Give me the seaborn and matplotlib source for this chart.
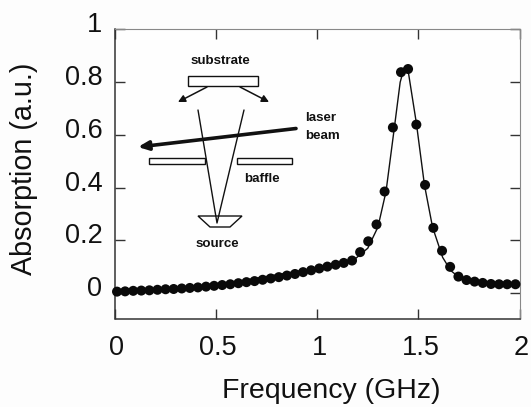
import matplotlib
matplotlib.use("Agg")
import matplotlib.pyplot as plt
from matplotlib.patches import Rectangle, Polygon
from matplotlib.transforms import ScaledTranslation
import pandas as pd
import seaborn as sns

frequency = [0.010, 0.050, 0.090, 0.130, 0.170, 0.210, 0.250, 0.290, 0.330, 0.370,
             0.410, 0.450, 0.490, 0.530, 0.570, 0.610, 0.650, 0.690, 0.730, 0.770,
             0.810, 0.850, 0.890, 0.930, 0.970, 1.010, 1.050, 1.091, 1.131, 1.172,
             1.212, 1.252, 1.293, 1.333, 1.374, 1.414, 1.449, 1.490, 1.533, 1.574,
             1.617, 1.657, 1.698, 1.738, 1.778, 1.818, 1.859, 1.899, 1.939, 1.980]
absorption = [0.005, 0.006, 0.008, 0.009, 0.010, 0.012, 0.014, 0.015, 0.017, 0.019,
              0.021, 0.024, 0.027, 0.030, 0.033, 0.037, 0.041, 0.045, 0.050, 0.055,
              0.060, 0.066, 0.072, 0.079, 0.086, 0.093, 0.100, 0.107, 0.114, 0.123,
              0.155, 0.196, 0.260, 0.385, 0.628, 0.838, 0.850, 0.639, 0.410, 0.247,
              0.160, 0.099, 0.062, 0.049, 0.043, 0.038, 0.034, 0.033, 0.033, 0.033]
fit_freq = [0.01, 0.50, 1.00, 1.17, 1.25, 1.30, 1.34, 1.38, 1.41, 1.43, 1.45, 1.49,
            1.53, 1.57, 1.62, 1.66, 1.70, 1.78, 1.90, 1.98]
fit_abs = [0.005, 0.030, 0.095, 0.118, 0.170, 0.250, 0.385, 0.620, 0.800, 0.855, 0.840, 0.645,
           0.410, 0.250, 0.135, 0.085, 0.060, 0.042, 0.033, 0.032]
x_ticks = [0, 0.5, 1, 1.5, 2]
x_tick_labels = ["0", "0.5", "1", "1.5", "2"]
y_ticks = [0, 0.2, 0.4, 0.6, 0.8, 1]
y_tick_labels = ["0", "0.2", "0.4", "0.6", "0.8", "1"]

sns.set_theme(style="ticks")
plt.rcParams["font.family"] = ["Liberation Sans", "DejaVu Sans"]
W, H = 531, 407
fig = plt.figure(figsize=(W / 100, H / 100), dpi=100, facecolor="#fdfdfd")
ax = fig.add_axes([115 / W, 1 - 318.5 / H, 404.5 / W, 289 / H])
ax.set_facecolor("#fefefe")

sns.lineplot(x=fit_freq, y=fit_abs, ax=ax, color="#111111", lw=1.0)
sns.scatterplot(data=pd.DataFrame({"f": frequency, "a": absorption}), x="f", y="a", ax=ax,
                color="#0a0a0a", s=52, edgecolor="none", clip_on=False, zorder=3)

ax.set_xlim(0, 2)
ax.set_ylim(-0.097, 1.0)
ax.set_xticks(x_ticks, x_tick_labels)
ax.set_yticks(y_ticks, y_tick_labels)
ax.tick_params(direction="in", length=7, width=1.0, color="#333333", top=True, right=True,
               labelsize=19.5, labelcolor="#111111")
ax.tick_params(axis="y", pad=9)
ax.tick_params(axis="x", pad=12)
ylab_shift = ScaledTranslation(0, 0.07, fig.dpi_scale_trans)
for lab in ax.get_yticklabels():
    lab.set_transform(lab.get_transform() + ylab_shift)
xlab_shift = ScaledTranslation(0.02, 0, fig.dpi_scale_trans)
for lab in ax.get_xticklabels():
    lab.set_transform(lab.get_transform() + xlab_shift)
ax.set_xlabel("Frequency (GHz)", fontsize=20.5, color="#111111")
ax.set_ylabel("Absorption (a.u.)", fontsize=20.7, color="#111111")
ax.xaxis.set_label_coords(0.535, -0.205)
ax.yaxis.set_label_coords(-0.19, 0.519)
for name, spine in ax.spines.items():
    spine.set_linewidth(1.1 if name in ("left", "bottom") else 0.8)
    spine.set_color("#333333" if name in ("left", "bottom") else "#888888")

# Schematic overlay in image pixel coordinates
ov = fig.add_axes([0, 0, 1, 1], facecolor="none")
ov.set_xlim(0, W)
ov.set_ylim(H, 0)
ov.axis("off")
ink = "#111111"
for xy, w, h in [((188, 76), 70, 10), ((149, 158), 56, 6), ((237, 158), 55, 6)]:
    ov.add_patch(Rectangle(xy, w, h, fc="white", ec=ink, lw=1.0))
ov.add_patch(Polygon([(198, 216), (242, 216), (230, 227), (210, 227)], closed=True,
                     fc="white", ec=ink, lw=1.0))
ov.plot([198, 217, 244], [110, 223, 110], color=ink, lw=1.0)
for a, b in [((207, 87), (178, 102)), ((240, 87), (269, 102))]:
    ov.annotate("", xy=b, xytext=a,
                arrowprops=dict(arrowstyle="-|>,head_length=0.35,head_width=0.18", color=ink,
                                lw=1.1, shrinkA=0, shrinkB=0))
ov.annotate("", xy=(138, 147), xytext=(296, 128.5),
            arrowprops=dict(arrowstyle="-|>,head_length=0.5,head_width=0.22", color=ink,
                            lw=2.6, shrinkA=0, shrinkB=0))
for x, y, s, ha in [(220, 61, "substrate", "center"), (262, 179, "baffle", "center"),
                    (217, 244, "source", "center"), (305.5, 118, "laser", "left"),
                    (305.5, 136, "beam", "left")]:
    ov.text(x, y, s, ha=ha, va="center", fontsize=9.6, fontweight="bold", color=ink)

fig.savefig("out.png", dpi=100, facecolor=fig.get_facecolor())
